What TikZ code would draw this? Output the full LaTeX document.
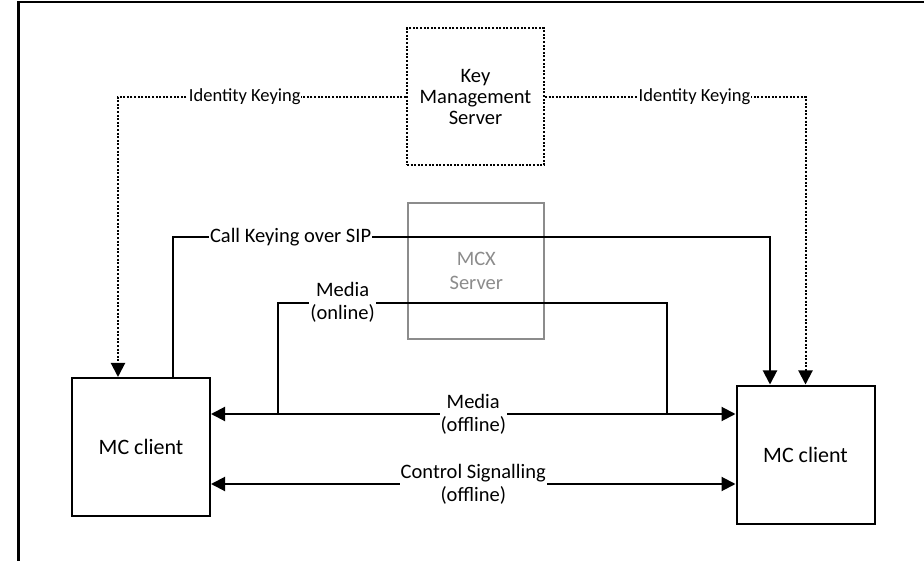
\documentclass[tikz,border=0pt]{standalone}
\usepackage{fontspec}
\setmainfont{Carlito}
\usetikzlibrary{arrows.meta}
\definecolor{mcxgray}{RGB}{140,140,140}
\tikzset{
  every picture/.style={x=1pt,y=-1pt},
  client/.style={draw,line width=2pt,minimum width=138pt,minimum height=138pt,
    inner sep=0pt,font=\fontsize{22}{26}\selectfont},
  kmsbox/.style={draw,line width=2pt,dash pattern=on 2pt off 1.6pt,
    minimum width=137pt,minimum height=137pt,inner sep=0pt,align=center,
    font=\fontsize{20.5}{21}\selectfont},
  mcxbox/.style={draw=mcxgray,text=mcxgray,line width=1.8pt,minimum width=136pt,
    minimum height=136pt,inner sep=0pt,align=center,font=\fontsize{20.5}{24}\selectfont},
  link/.style={line width=2pt},
  idlink/.style={line width=2pt,dash pattern=on 2pt off 1.6pt},
  tip/.style={-{Triangle[width=14pt,length=14pt]}},
  twotip/.style={{Triangle[width=14pt,length=14pt]}-{Triangle[width=14pt,length=14pt]}},
  lbl/.style={fill=white,inner sep=1pt,align=center,font=\fontsize{20.5}{23}\selectfont},
  idlbl/.style={fill=white,inner sep=0.5pt,font=\fontsize{18.5}{22}\selectfont},
}
\begin{document}
\begin{tikzpicture}
\useasboundingbox (0,0) rectangle (924,561);
% page frame edges
\draw[line width=2.2pt] (18.5,561) -- (18.5,2) -- (924,2);

% servers and clients
\node[mcxbox] (mcx) at (476.3,271) {MCX\\Server};
\node[kmsbox] (kms) at (475.5,96.7) {Key\\Management\\Server};
\node[client] (lc) at (141,447) {MC client};
\node[client] (rc) at (805.5,454.5) {MC client};

% anchor points on the client tops and the media line
\coordinate (idL) at ([xshift=-23pt]lc.north);
\coordinate (ckL) at ([xshift=32pt]lc.north);
\coordinate (ckR) at ([xshift=-35.5pt]rc.north);
\coordinate (ckY) at (0,237);
\coordinate (moY) at (0,302.7);
\coordinate (mfY) at (0,414);
\coordinate (csY) at (0,484);
\coordinate (moL) at (278,414);
\coordinate (moR) at (667,414);

% identity keying from the key management server
\draw[idlink,tip] (kms.west) -| node[idlbl,pos=0.28]{Identity Keying} (idL);
\draw[idlink,tip] (kms.east) -| node[idlbl,pos=0.287]{Identity Keying} (rc.north);

% call keying over SIP
\draw[link,tip] (ckL) -- (ckL |- ckY)
  -- node[lbl,pos=0.197]{Call Keying over SIP} (ckR |- ckY) -- (ckR);

% media via the MCX server
\draw[link] (moL) -- (moL |- moY)
  -- node[lbl,pos=0.166]{Media\\(online)} (moR |- moY) -- (moR);

% direct media and control signalling
\draw[link,twotip] (lc.east |- mfY) -- node[lbl]{Media\\(offline)} (rc.west |- mfY);
\draw[link,twotip] (lc.east |- csY) -- node[lbl]{Control Signalling\\(offline)} (rc.west |- csY);
\end{tikzpicture}
\end{document}
